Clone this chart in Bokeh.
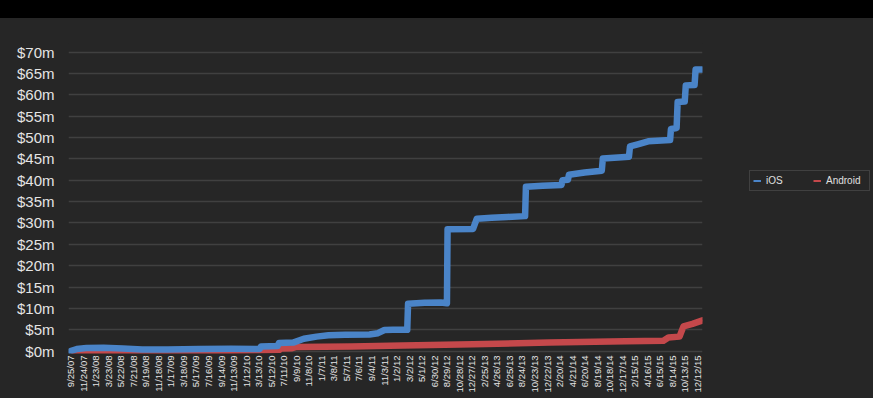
import math
import pandas as pd
from bokeh.plotting import figure
from bokeh.models import FixedTicker, Legend, LegendItem, GlobalInlineStyleSheet
from bokeh.embed import file_html
from bokeh.resources import INLINE

START = "2007-09-25"
TICK_STEP_DAYS = 60

x_tick_labels = [
    "9/25/07", "11/24/07", "1/23/08", "3/23/08", "5/22/08", "7/21/08", "9/19/08",
    "11/18/08", "1/17/09", "3/18/09", "5/17/09", "7/16/09", "9/14/09", "11/13/09",
    "1/12/10", "3/13/10", "5/12/10", "7/11/10", "9/9/10", "11/8/10", "1/7/11",
    "3/8/11", "5/7/11", "7/6/11", "9/4/11", "11/3/11", "1/2/12", "3/2/12", "5/1/12",
    "6/30/12", "8/29/12", "10/28/12", "12/27/12", "2/25/13", "4/26/13", "6/25/13",
    "8/24/13", "10/23/13", "12/22/13", "2/20/14", "4/21/14", "6/20/14", "8/19/14",
    "10/18/14", "12/17/14", "2/15/15", "4/16/15", "6/15/15", "8/14/15", "10/13/15",
    "12/12/15",
]

ios_dates = [
    "2007-09-25", "2007-10-25", "2007-12-10", "2008-03-01", "2008-06-01",
    "2008-09-01", "2009-01-01", "2009-06-01", "2009-11-01", "2010-03-18",
    "2010-03-24", "2010-06-12", "2010-06-18", "2010-08-25", "2010-10-15",
    "2010-12-15", "2011-02-10", "2011-05-01", "2011-08-25", "2011-10-05",
    "2011-11-05", "2011-12-15", "2012-02-22", "2012-02-26", "2012-05-15",
    "2012-08-01", "2012-08-30", "2012-09-02", "2013-01-02", "2013-01-20",
    "2013-04-01", "2013-06-15", "2013-09-08", "2013-09-12", "2013-12-01",
    "2014-03-01", "2014-03-06", "2014-04-01", "2014-04-06", "2014-06-20",
    "2014-09-10", "2014-09-15", "2014-12-15", "2015-01-18", "2015-01-23",
    "2015-03-01", "2015-04-20", "2015-08-03", "2015-08-07", "2015-09-03",
    "2015-09-08", "2015-10-12", "2015-10-17", "2015-11-28", "2015-12-03",
    "2016-01-03",
]
ios_values = [
    0.0, 0.5, 0.75, 0.8, 0.6,
    0.4, 0.4, 0.5, 0.55, 0.5,
    1.1, 1.2, 1.9, 2.0, 2.9,
    3.4, 3.7, 3.85, 3.9, 4.2,
    4.95, 5.0, 5.0, 11.1, 11.3,
    11.4, 11.2, 28.5, 28.6, 31.0,
    31.2, 31.4, 31.6, 38.5, 38.7,
    38.9, 40.0, 40.1, 41.3, 41.8,
    42.2, 45.1, 45.4, 45.5, 47.9,
    48.4, 49.1, 49.4, 52.0, 52.2,
    58.3, 58.4, 62.2, 62.3, 65.9,
    65.9,
]

android_dates = [
    "2007-10-10", "2009-09-01", "2010-03-10", "2010-06-20", "2010-06-28",
    "2010-08-20", "2010-09-10", "2011-06-01", "2012-02-01", "2013-01-01",
    "2014-01-01", "2015-01-01", "2015-07-02", "2015-07-26", "2015-09-17",
    "2015-10-06", "2015-11-18", "2016-01-05",
]
android_values = [
    0.0, 0.05, 0.2, 0.3, 0.6,
    0.7, 1.0, 1.1, 1.3, 1.6,
    2.0, 2.3, 2.45, 3.2, 3.4,
    5.8, 6.4, 7.2,
]

y_ticks = [0, 5, 10, 15, 20, 25, 30, 35, 40, 45, 50, 55, 60, 65, 70]
y_tick_labels = ["$0m", "$5m", "$10m", "$15m", "$20m", "$25m", "$30m", "$35m",
                 "$40m", "$45m", "$50m", "$55m", "$60m", "$65m", "$70m"]

BLUE = "#4a84c8"
RED = "#c4484b"
FONT = "Liberation Sans"


def to_days(dates):
    return list((pd.to_datetime(dates) - pd.Timestamp(START)).days)


ios_x = to_days(ios_dates)
android_x = to_days(android_dates)
x_ticks = [i * TICK_STEP_DAYS for i in range(len(x_tick_labels))]

p = figure(
    frame_width=634, frame_height=310,
    min_border_left=68, min_border_right=171, min_border_top=43, min_border_bottom=37,
    x_range=(-10, 3024), y_range=(-0.55, 72),
    output_backend="svg", toolbar_location=None,
    background_fill_color="#262626", border_fill_alpha=0,
)
p.outline_line_color = None
p.stylesheets = [GlobalInlineStyleSheet(
    css="html{background:linear-gradient(#000 0px,#000 18px,#262626 18px) no-repeat #262626;}"
)]

# thin copies (under the thick lines) used for legend glyphs
thin_ios = p.line(ios_x, ios_values, line_width=2, line_color=BLUE)
thin_and = p.line(android_x, android_values, line_width=2, line_color=RED)
p.line(android_x, android_values, line_width=6.5, line_color=RED,
       line_cap="round", line_join="round")
p.line(ios_x, ios_values, line_width=6.5, line_color=BLUE,
       line_cap="round", line_join="round")

p.xaxis.ticker = FixedTicker(ticks=x_ticks)
p.xaxis.major_label_overrides = {t: lab for t, lab in zip(x_ticks, x_tick_labels)}
p.xaxis.major_label_orientation = math.pi / 2
p.xaxis.major_label_text_font_size = "9.5px"
p.xaxis.major_label_standoff = 2
p.yaxis.ticker = FixedTicker(ticks=y_ticks)
p.yaxis.major_label_overrides = {t: lab for t, lab in zip(y_ticks, y_tick_labels)}
p.yaxis.major_label_text_font_size = "15px"
p.yaxis.major_label_standoff = 14
for ax in (p.xaxis, p.yaxis):
    ax.axis_line_color = None
    ax.major_tick_line_color = None
    ax.minor_tick_line_color = None
    ax.major_tick_out = 0
    ax.major_tick_in = 0
    ax.minor_tick_out = 0
    ax.major_label_text_color = "#e4e4e4"
    ax.major_label_text_font = FONT

p.xgrid.grid_line_color = None
p.ygrid.ticker = FixedTicker(ticks=y_ticks)
p.ygrid.grid_line_color = "#404040"
p.ygrid.grid_line_width = 1.5

legend_opts = dict(
    orientation="horizontal", location=(47, 162), margin=0,
    padding=3, spacing=7, label_width=40, label_standoff=5,
    glyph_width=8, glyph_height=13, label_height=13,
    label_text_font_size="10px", label_text_color="#e0e0e0", label_text_font=FONT,
    background_fill_color="#262626", background_fill_alpha=1,
    border_line_color="#5a5a5a", border_line_width=1,
)
legend = Legend(
    items=[LegendItem(label="iOS", renderers=[thin_ios]),
           LegendItem(label="Android", renderers=[thin_and])],
    **legend_opts,
)
p.add_layout(legend, "right")

open("out.html", "w").write(file_html(p, INLINE))
